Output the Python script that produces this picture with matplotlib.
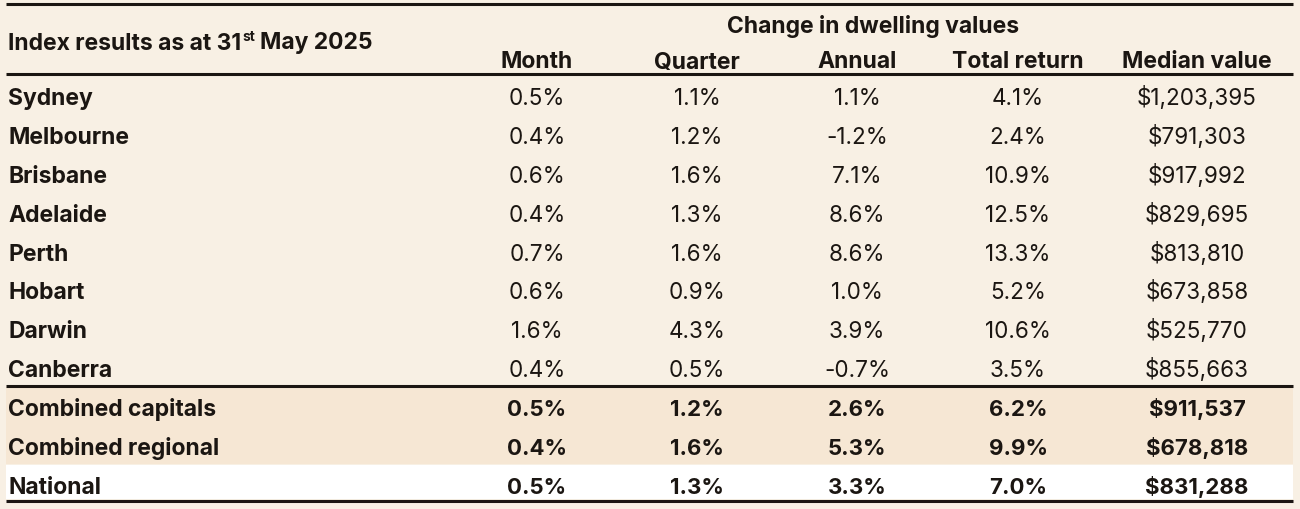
import matplotlib
matplotlib.use("Agg")
import matplotlib.pyplot as plt
from matplotlib.patches import Rectangle

plt.rcParams['font.family'] = ['Inter', 'DejaVu Sans']

# Данные таблицы
regions = ["Sydney", "Melbourne", "Brisbane", "Adelaide", "Perth", "Hobart",
           "Darwin", "Canberra", "Combined capitals", "Combined regional", "National"]
month = ["0.5%", "0.4%", "0.6%", "0.4%", "0.7%", "0.6%", "1.6%", "0.4%", "0.5%", "0.4%", "0.5%"]
quarter = ["1.1%", "1.2%", "1.6%", "1.3%", "1.6%", "0.9%", "4.3%", "0.5%", "1.2%", "1.6%", "1.3%"]
annual = ["1.1%", "-1.2%", "7.1%", "8.6%", "8.6%", "1.0%", "3.9%", "-0.7%", "2.6%", "5.3%", "3.3%"]
total_return = ["4.1%", "2.4%", "10.9%", "12.5%", "13.3%", "5.2%", "10.6%", "3.5%", "6.2%", "9.9%", "7.0%"]
median_value = ["$1,203,395", "$791,303", "$917,992", "$829,695", "$813,810", "$673,858",
                "$525,770", "$855,663", "$911,537", "$678,818", "$831,288"]
col_headers = ["Month", "Quarter", "Annual", "Total return", "Median value"]
group_header = "Change in dwelling values"

BG = "#f8f0e4"
BAND = "#f6e7d4"
INK = "#1b1612"

W, H = 1300, 510
fig = plt.figure(figsize=(W / 100, H / 100), dpi=100, facecolor=BG)
ax = fig.add_axes([0, 0, 1, 1])
ax.set_xlim(0, W)
ax.set_ylim(H, 0)
ax.axis("off")

# Геометрия
x0, x1 = 6, 1293
col_x = [537, 697, 857, 1018, 1197]
row_y0, row_dy = 105, 38.9   # базовая линия первой строки и шаг
fs_head = 16.5
fs_data = 16.2
fs_bold = 16

# Фоновые полосы для итоговых строк
ax.add_patch(Rectangle((x0, 388), x1 - x0, 77, color=BAND, lw=0, zorder=0))
ax.add_patch(Rectangle((x0, 466), x1 - x0, 34, color="white", lw=0, zorder=0))

# Горизонтальные линии
for y in [5, 75, 387, 502]:
    ax.plot([x0, x1], [y, y], color=INK, lw=2.2, solid_capstyle="butt", zorder=3)

# Заголовки
ax.text(873, 33, group_header, ha="center", va="baseline",
        fontsize=fs_head, fontweight="bold", color=INK)
for x, h in zip(col_x, col_headers):
    ax.text(x, 68.5, h, ha="center", va="baseline", fontsize=fs_head,
            fontweight="bold", color=INK)

# Заголовок с надстрочным "st"
fig.canvas.draw()
r = fig.canvas.get_renderer()
t1 = ax.text(8, 49.5, "Index results as at 31", ha="left", va="baseline",
             fontsize=fs_head, fontweight="bold", color=INK)
bb = t1.get_window_extent(renderer=r)
xs = ax.transData.inverted().transform((bb.x1, 0))[0]
t2 = ax.text(xs + 1, 41, "st", ha="left", va="baseline",
             fontsize=fs_head * 0.6, fontweight="bold", color=INK)
bb2 = t2.get_window_extent(renderer=r)
xm = ax.transData.inverted().transform((bb2.x1, 0))[0]
ax.text(xm + 5, 49.5, "May 2025", ha="left", va="baseline",
        fontsize=fs_head, fontweight="bold", color=INK)

# Строки
cols = [month, quarter, annual, total_return, median_value]
for i, name in enumerate(regions):
    y = row_y0 + i * row_dy
    bold_row = i >= 8
    ax.text(8, y, name, ha="left", va="baseline", fontsize=fs_head,
            fontweight="bold", color=INK)
    for x, col in zip(col_x, cols):
        ax.text(x, y, col[i], ha="center", va="baseline",
                fontsize=fs_bold if bold_row else fs_data,
                fontweight="bold" if bold_row else "normal", color=INK)

fig.savefig("out.png", dpi=100, facecolor=BG)
